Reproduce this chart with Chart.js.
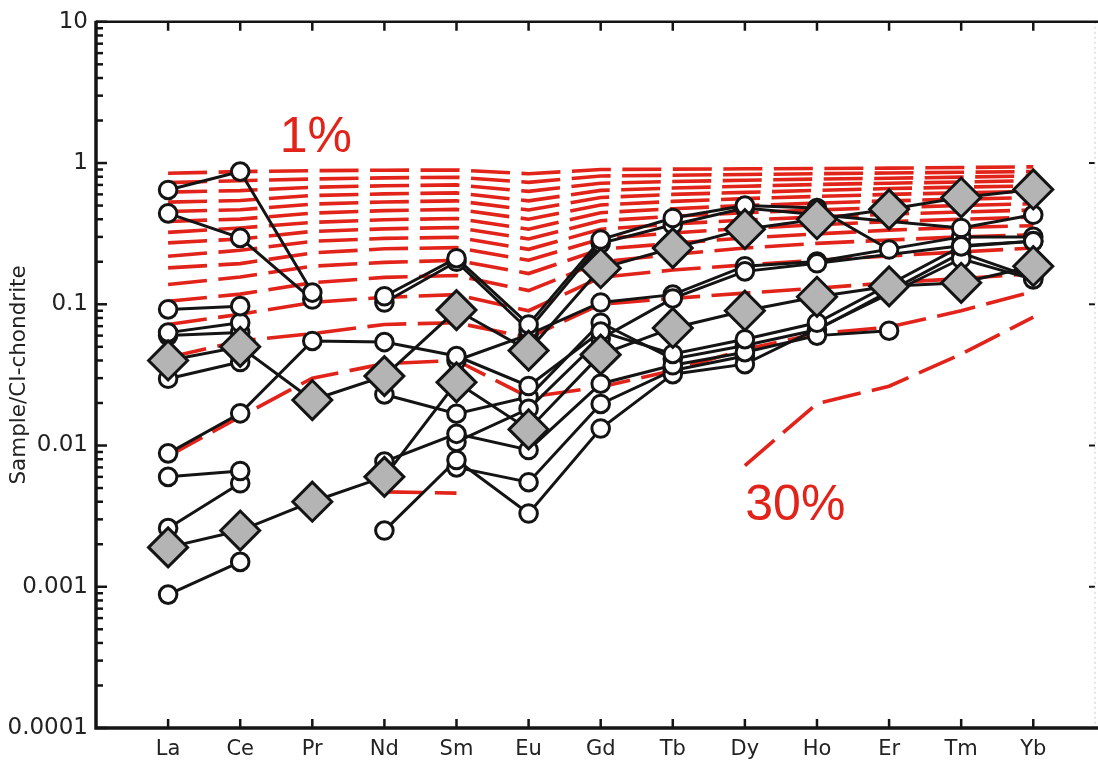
<!DOCTYPE html>
<html>
<head>
<meta charset="utf-8">
<script src="https://cdn.jsdelivr.net/npm/chart.js@4.4.1/dist/chart.umd.min.js"></script>
<style>
  html, body { margin: 0; padding: 0; background: #fff; }
</style>
</head>
<body>
<canvas id="ree" width="1098" height="763"></canvas>
<script>
// REE pattern, normalised to CI chondrite
const elements = ["La", "Ce", "Pr", "Nd", "Sm", "Eu", "Gd", "Tb", "Dy", "Ho", "Er", "Tm", "Yb"];
const yTickValues = [0.0001, 0.001, 0.01, 0.1, 1, 10];
const yTickLabels = ["0.0001", "0.001", "0.01", "0.1", "1", "10"];

// partial melting curves (red dashes), top = 1 %, bottom = 30 %
const melt1  = [0.846, 0.869, 0.883, 0.890, 0.893, 0.840, 0.900, 0.905, 0.910, 0.915, 0.920, 0.930, 0.940];
const melt2  = [0.727, 0.750, 0.771, 0.785, 0.794, 0.730, 0.810, 0.820, 0.830, 0.840, 0.850, 0.860, 0.870];
const melt3  = [0.622, 0.638, 0.674, 0.690, 0.700, 0.630, 0.720, 0.740, 0.755, 0.770, 0.780, 0.795, 0.810];
const melt4  = [0.529, 0.543, 0.589, 0.605, 0.615, 0.540, 0.640, 0.665, 0.685, 0.705, 0.720, 0.735, 0.750];
const melt5  = [0.454, 0.467, 0.512, 0.530, 0.540, 0.465, 0.570, 0.600, 0.620, 0.640, 0.660, 0.675, 0.690];
const melt6  = [0.386, 0.401, 0.442, 0.460, 0.470, 0.400, 0.505, 0.535, 0.560, 0.580, 0.600, 0.615, 0.630];
const melt7  = [0.323, 0.347, 0.380, 0.397, 0.405, 0.340, 0.445, 0.475, 0.500, 0.520, 0.540, 0.555, 0.570];
const melt8  = [0.272, 0.290, 0.328, 0.342, 0.350, 0.290, 0.390, 0.420, 0.445, 0.465, 0.485, 0.500, 0.515];
const melt9  = [0.219, 0.241, 0.279, 0.293, 0.298, 0.245, 0.340, 0.370, 0.395, 0.415, 0.435, 0.450, 0.465];
const melt10 = [0.181, 0.194, 0.231, 0.247, 0.252, 0.205, 0.290, 0.320, 0.345, 0.365, 0.385, 0.400, 0.415];
const melt11 = [0.138, 0.156, 0.186, 0.198, 0.205, 0.165, 0.245, 0.270, 0.295, 0.315, 0.335, 0.350, 0.360];
const melt12 = [0.105, 0.118, 0.142, 0.155, 0.160, 0.125, 0.200, 0.225, 0.250, 0.270, 0.285, 0.300, 0.310];
const melt13 = [0.072, 0.085, 0.103, 0.112, 0.117, 0.090, 0.155, 0.175, 0.190, 0.205, 0.220, 0.235, 0.250];
const melt14 = [0.042, 0.055, 0.062, 0.072, 0.074, 0.058, 0.100, 0.110, 0.120, 0.130, 0.142, 0.152, 0.165];
const melt15 = [0.0084, 0.016, 0.030, 0.038, 0.040, 0.022, 0.026, 0.034, 0.048, 0.062, 0.069, 0.090, 0.123];
const melt20 = [null, null, null, 0.0047, 0.0046, null, null, null, null, null, null, null, null];
const melt30 = [null, null, null, null, null, null, null, null, 0.0072, 0.0198, 0.0263, 0.0444, 0.081];

// measured samples (open circles); null = not analysed
const sampleA = [0.645, 0.87, 0.121, null, null, null, null, null, null, null, null, null, null];
const sampleB = [0.44, 0.295, 0.108, null, null, null, null, null, null, null, null, null, null];
const sampleC = [0.092, 0.097, null, null, null, null, null, null, null, null, null, null, null];
const sampleD = [0.063, 0.074, null, null, null, null, null, null, null, null, null, null, null];
const sampleE = [0.06, 0.063, null, null, null, null, null, null, null, null, null, null, null];
const sampleF = [0.0088, 0.0169, 0.055, 0.054, 0.043, 0.0264, 0.064, 0.0445, 0.0566, 0.074, null, 0.257, 0.279];
const sampleG = [0.0297, 0.039, null, null, null, null, null, null, null, null, null, null, null];
const sampleH = [0.006, 0.0066, null, null, null, null, null, null, null, null, null, null, null];
const sampleI = [0.0026, 0.0054, null, null, null, null, null, null, null, null, null, null, null];
const sampleJ = [0.00088, 0.0015, null, null, null, null, null, null, null, null, null, null, null];
const sampleK = [null, null, null, 0.0077, 0.0121, 0.0093, 0.0274, 0.037, 0.0458, 0.06, 0.065, null, null];
const sampleL = [null, null, null, 0.0025, 0.0079, 0.0033, 0.0132, 0.032, 0.0377, null, null, 0.21, 0.15];
const sampleM = [null, null, null, null, 0.0106, 0.0182, 0.057, 0.11, 0.171, 0.195, null, 0.26, 0.28];
const sampleN = [null, null, null, null, 0.007, 0.0055, 0.0197, 0.034, 0.043, null, null, null, null];
const sampleP = [null, null, null, 0.114, 0.212, 0.072, 0.287, 0.408, 0.50, 0.48, 0.244, null, null];
const sampleQ = [null, null, null, 0.103, 0.20, 0.066, 0.27, 0.366, 0.48, null, null, 0.347, 0.43];
const sampleR = [null, null, null, null, 0.040, 0.061, 0.103, 0.117, 0.186, 0.201, null, 0.30, 0.30];
const sampleS = [null, null, null, 0.023, 0.0168, 0.0221, 0.074, 0.041, 0.051, 0.066, null, 0.231, 0.154];

// averages (grey diamonds)
const meanUpper = [0.04, 0.05, 0.021, 0.031, 0.091, 0.047, 0.18, 0.25, 0.34, 0.40, 0.47, 0.57, 0.65];
const meanLower = [0.0019, 0.0025, 0.004, 0.006, 0.028, 0.013, 0.044, 0.068, 0.09, 0.113, 0.134, 0.142, 0.186];

const RED = "#e2231a";
const INK = "#141414";
const FONT = "'DejaVu Sans', Verdana, sans-serif";

function toPoints(arr) {
  const pts = [];
  arr.forEach((v, i) => { if (v != null) pts.push({ x: i + 1, y: v }); });
  return pts;
}

const meltCurves = [melt1, melt2, melt3, melt4, melt5, melt6, melt7, melt8, melt9, melt10,
  melt11, melt12, melt13, melt14, melt15, melt20, melt30];
const samples = [sampleA, sampleB, sampleC, sampleD, sampleE, sampleF, sampleG, sampleH, sampleI,
  sampleJ, sampleK, sampleL, sampleM, sampleN, sampleP, sampleQ, sampleR, sampleS];
const means = [meanUpper, meanLower];

const datasets = [];
meltCurves.forEach(c => datasets.push({
  data: toPoints(c), borderColor: RED, borderWidth: 3.6, borderDash: [39, 11.5],
  borderCapStyle: "butt", pointRadius: 0, order: 5
}));
// connecting lines first, markers on top
samples.concat(means).forEach(s => datasets.push({
  data: toPoints(s), borderColor: INK, borderWidth: 3, pointRadius: 0, order: 4
}));
samples.forEach(s => datasets.push({
  data: toPoints(s), showLine: false, pointRadius: 8.8, pointBorderWidth: 3,
  pointBackgroundColor: "#fff", pointBorderColor: INK, order: 3
}));
means.forEach(s => datasets.push({
  data: toPoints(s), showLine: false, pointStyle: "rectRot", pointRadius: 19.5, pointBorderWidth: 3,
  pointBackgroundColor: "#b4b4b4", pointBorderColor: INK, order: 2
}));

// axes box, inward ticks and the two melt-degree labels
const framePlugin = {
  id: "frame",
  afterDraw(chart) {
    const { ctx, chartArea: a, scales: { x, y } } = chart;
    ctx.save();
    ctx.strokeStyle = INK;
    ctx.lineCap = "butt";

    // x ticks, bottom and top
    ctx.lineWidth = 2.5;
    elements.forEach((_, i) => {
      const px = x.getPixelForValue(i + 1);
      ctx.beginPath();
      ctx.moveTo(px, a.bottom); ctx.lineTo(px, a.bottom - 9);
      ctx.moveTo(px, a.top); ctx.lineTo(px, a.top + 9);
      ctx.stroke();
    });

    // y ticks, decades long, 2..9 short
    for (let e = -4; e <= 1; e++) {
      for (let m = 1; m <= 9; m++) {
        const v = m * Math.pow(10, e);
        if (v > 10.0001) break;
        const py = y.getPixelForValue(v);
        const len = m === 1 ? 11 : 7;
        ctx.lineWidth = 2.5;
        ctx.beginPath();
        ctx.moveTo(a.left, py); ctx.lineTo(a.left + len, py);
        ctx.stroke();
        if (m === 1 && e > -4 && e < 1) {
          ctx.lineWidth = 2;
          ctx.beginPath();
          ctx.moveTo(a.right - 1, py); ctx.lineTo(a.right - 7, py);
          ctx.stroke();
        }
      }
    }

    // frame
    ctx.strokeStyle = "#c8c8c8";
    ctx.lineWidth = 1;
    ctx.setLineDash([2, 3]);
    ctx.beginPath();
    ctx.moveTo(a.right - 1, a.top); ctx.lineTo(a.right - 1, a.bottom);
    ctx.stroke();
    ctx.setLineDash([]);
    ctx.strokeStyle = INK;
    ctx.lineWidth = 2.5;
    ctx.beginPath();
    ctx.moveTo(a.left, a.top); ctx.lineTo(chart.width, a.top);
    ctx.stroke();
    ctx.lineWidth = 3.5;
    ctx.beginPath();
    ctx.moveTo(a.left, a.top - 1); ctx.lineTo(a.left, a.bottom);
    ctx.lineTo(chart.width, a.bottom);
    ctx.stroke();

    ctx.fillStyle = RED;
    ctx.font = "50px 'Liberation Sans', Arial, sans-serif";
    ctx.textAlign = "center";
    ctx.textBaseline = "middle";
    ctx.fillText("1%", x.getPixelForValue(3.05), y.getPixelForValue(1.5));
    ctx.fillText("30%", x.getPixelForValue(9.7), y.getPixelForValue(0.0037));
    ctx.restore();
  }
};

new Chart(document.getElementById("ree"), {
  type: "line",
  data: { datasets },
  options: {
    responsive: false,
    animation: false,
    devicePixelRatio: 1,
    layout: { autoPadding: false, padding: { left: 0, right: 2, top: 20, bottom: 0 } },
    plugins: { legend: { display: false }, tooltip: { enabled: false } },
    elements: { line: { tension: 0, fill: false } },
    scales: {
      x: {
        type: "linear",
        min: 0,
        max: 13.87,
        grid: { display: false, drawTicks: false },
        border: { display: false },
        afterBuildTicks: s => { s.ticks = elements.map((_, i) => ({ value: i + 1 })); },
        afterFit: s => { s.height = 35; },
        ticks: {
          autoSkip: false,
          maxRotation: 0,
          padding: 9,
          color: "#222",
          font: { family: FONT, size: 21 },
          callback: v => elements[Math.round(v) - 1] || ""
        }
      },
      y: {
        type: "logarithmic",
        min: 0.0001,
        max: 10,
        grid: { display: false, drawTicks: false },
        border: { display: false },
        afterBuildTicks: s => { s.ticks = yTickValues.map(v => ({ value: v })); },
        afterFit: s => { s.width = 96; },
        title: {
          display: true,
          text: "Sample/CI-chondrite",
          color: "#222",
          padding: { top: 7, bottom: 0 },
          font: { family: FONT, size: 21.5 }
        },
        ticks: {
          padding: 8,
          color: "#222",
          font: { family: FONT, size: 23 },
          callback: (v, i) => yTickLabels[i]
        }
      }
    }
  },
  plugins: [framePlugin]
});
</script>
</body>
</html>
